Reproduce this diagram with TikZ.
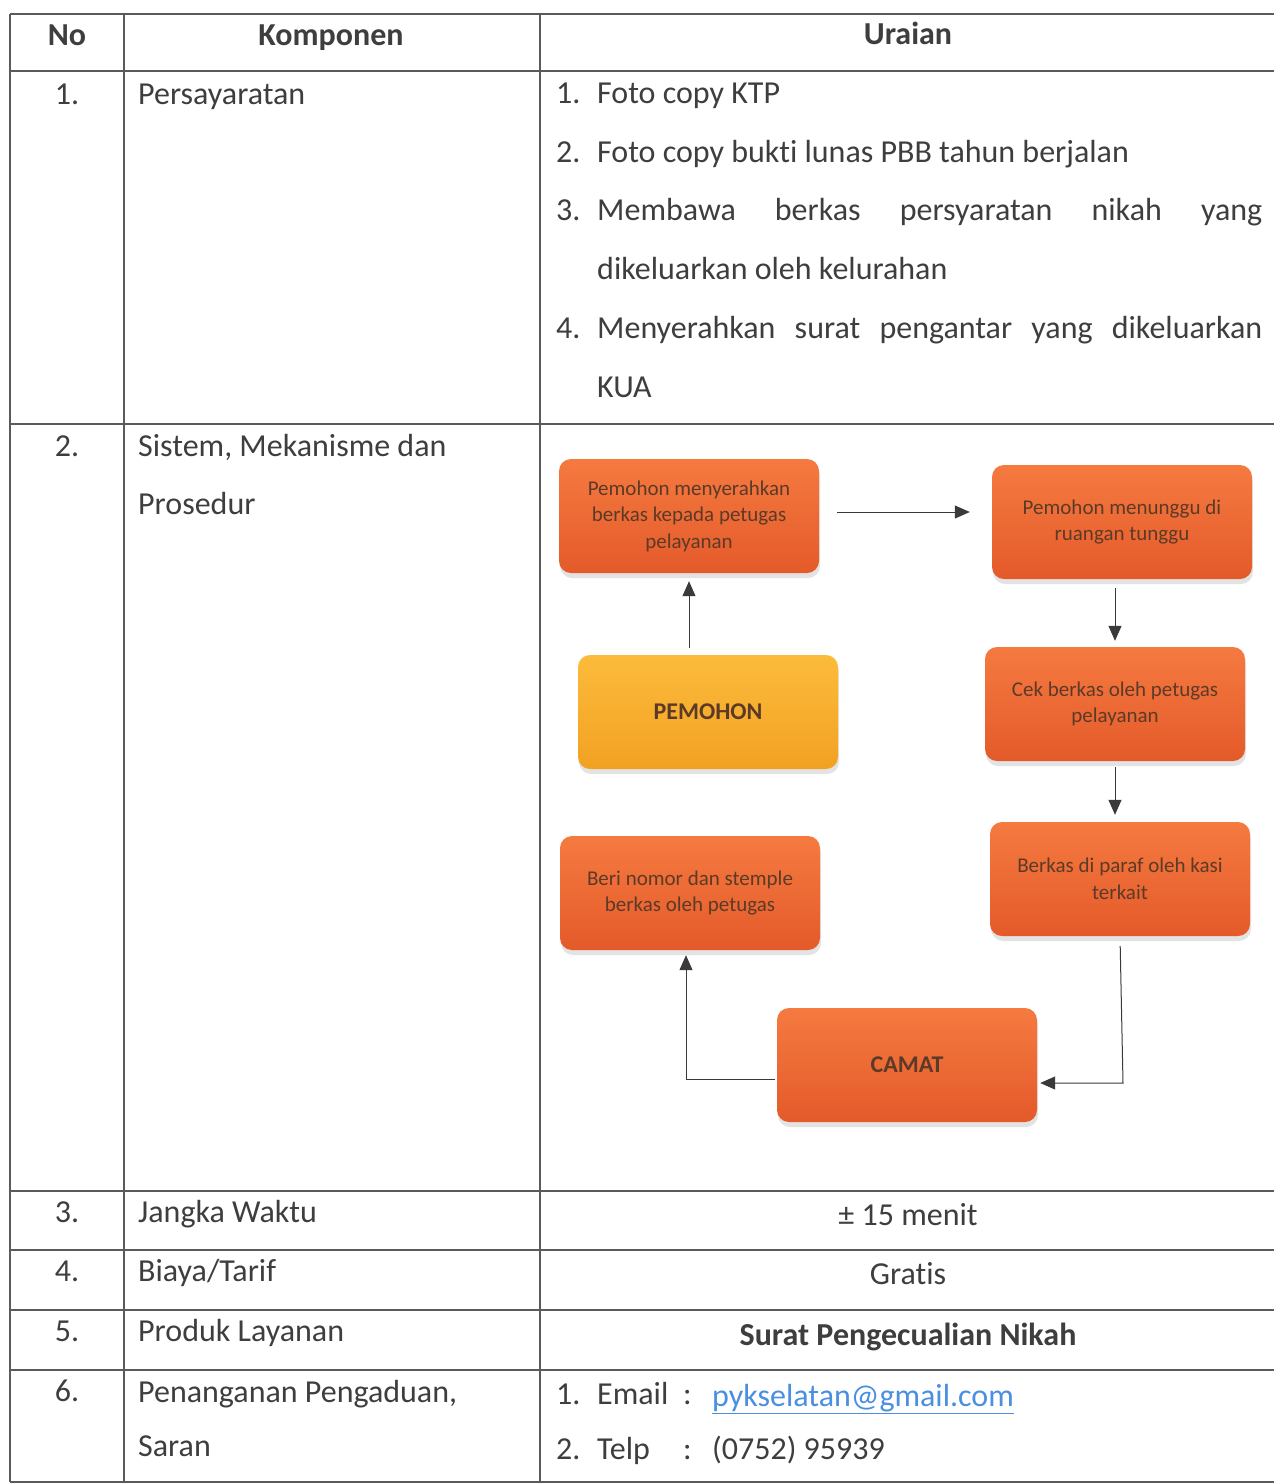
\documentclass[tikz,border=0pt]{standalone}
\usepackage{fontspec}
\setmainfont{Carlito}[Ligatures={NoCommon}]
\usetikzlibrary{arrows.meta,shadows}
\definecolor{ink}{HTML}{3E3E3E}
\definecolor{rule}{HTML}{5A5A5A}
\definecolor{orgA}{HTML}{F57A40}
\definecolor{orgB}{HTML}{E45A2A}
\definecolor{yelA}{HTML}{FCBB3C}
\definecolor{yelB}{HTML}{F2A122}
\definecolor{boxink}{HTML}{5C3A28}
\definecolor{link}{HTML}{4A8FE0}
\definecolor{arrowc}{HTML}{3A3A3A}
\begin{document}
\begin{tikzpicture}[x=1pt,y=-1pt,
  txt/.style={anchor=mid west,inner sep=0pt,text=ink,font=\fontsize{32}{39}\selectfont},
  ctxt/.style={txt,anchor=mid},
  head/.style={ctxt,font=\fontsize{32}{39}\selectfont\bfseries},
  tline/.style={draw=rule,line width=1.3pt},
  flowbox/.style={rounded corners=12pt,minimum width=260pt,minimum height=114pt,
    align=center,inner sep=0pt,text=boxink,
    font=\fontsize{21}{26.5}\selectfont,
    top color=orgA,bottom color=orgB,
    drop shadow={opacity=0.22,shadow xshift=1pt,shadow yshift=-5pt}},
  yelbox/.style={flowbox,top color=yelA,bottom color=yelB},
  bigtxt/.style={font=\fontsize{24}{29}\selectfont\bfseries},
  arr/.style={draw=rule,line width=1pt,-{Triangle[length=15pt,width=13pt]},arrowc}
]
\useasboundingbox (0,0) rectangle (1274,1484);
\fill[white] (0,0) rectangle (1274,1484);
% table rules
\draw[tline] (10,14) -- (1274,14);
\draw[tline] (10,71) -- (1274,71);
\draw[tline] (10,424) -- (1274,424);
\draw[tline] (10,1191) -- (1274,1191);
\draw[tline] (10,1250) -- (1274,1250);
\draw[tline] (10,1310) -- (1274,1310);
\draw[tline] (10,1370) -- (1274,1370);
\draw[tline] (10,1482) -- (1274,1482);
\draw[tline] (10,14) -- (10,1482);
\draw[tline] (124,14) -- (124,1482);
\draw[tline] (540,14) -- (540,1482);
% header
\node[head] (hNo) at (67,43) {No};
\node[head] (hKomp) at (331,43) {Komponen};
\node[head] (hUr) at (908,42) {Uraian};
% row 1
\node[ctxt] (n1) at (67,102) {1.};
\node[txt] (k1) at (138,102) {Persayaratan};
\node[txt] (i1n) at (556,101) {1.};
\node[txt] (i1) at (597,101) {Foto copy KTP};
\node[txt] (i2n) at (556,160) {2.};
\node[txt] (i2) at (597,160) {Foto copy bukti lunas PBB tahun berjalan};
\node[txt] (i3n) at (556,218) {3.};
\node[txt] (i3) at (597,218) {\makebox[665pt][s]{Membawa berkas persyaratan nikah yang}};
\node[txt] (i3b) at (597,277) {dikeluarkan oleh kelurahan};
\node[txt] (i4n) at (556,336) {4.};
\node[txt] (i4) at (597,336) {\makebox[665pt][s]{Menyerahkan surat pengantar yang dikeluarkan}};
\node[txt] (i4b) at (597,395) {KUA};
% row 2
\node[ctxt] (n2) at (67,454) {2.};
\node[txt] (k2) at (138,454) {Sistem, Mekanisme dan};
\node[txt] (k2b) at (138,512) {Prosedur};
% flowchart
\node[flowbox] (b1) at (689,516) {Pemohon menyerahkan\\berkas kepada petugas\\pelayanan};
\node[flowbox] (b2) at (1122,522) {Pemohon menunggu di\\ruangan tunggu};
\node[yelbox,bigtxt] (pem) at (708,712) {PEMOHON};
\node[flowbox] (cek) at (1115,704) {Cek berkas oleh petugas\\pelayanan};
\node[flowbox] (ber) at (1120,879) {Berkas di paraf oleh kasi\\terkait};
\node[flowbox] (beri) at (690,893) {Beri nomor dan stemple\\berkas oleh petugas};
\node[flowbox,bigtxt] (camat) at (907,1065) {CAMAT};
\coordinate (kb) at (1123,1083);
\coordinate (kc) at (686,1079);
\draw[arr,shorten <=18pt,shorten >=22pt] ([yshift=4pt]b1.east) -- ([yshift=10pt]b2.west);
\draw[arr,shorten <=7pt,shorten >=8pt] (b1.south |- pem.north) -- (b1.south);
\draw[arr,shorten <=9pt,shorten >=6pt] (b2.south -| cek.north) -- (cek.north);
\draw[arr,shorten <=6pt,shorten >=7pt] (cek.south) -- (cek.south |- ber.north);
\draw[arr,shorten <=10pt,shorten >=3pt] (ber.south) -- (kb) -- (kb -| camat.east);
\draw[arr,shorten <=2pt,shorten >=5pt] (camat.west |- kc) -- (kc) -- (kc |- beri.south);
% row 3
\node[ctxt] (n3) at (67,1220) {3.};
\node[txt] (k3) at (138,1220) {Jangka Waktu};
\node[ctxt] (u3) at (908,1223) {± 15 menit};
% row 4
\node[ctxt] (n4) at (67,1279) {4.};
\node[txt] (k4) at (138,1279) {Biaya/Tarif};
\node[ctxt] (u4) at (908,1282) {Gratis};
% row 5
\node[ctxt] (n5) at (67,1339) {5.};
\node[txt] (k5) at (138,1339) {Produk Layanan};
\node[ctxt,font=\fontsize{32}{39}\selectfont\bfseries] (u5) at (908,1343) {Surat Pengecualian Nikah};
% row 6
\node[ctxt] (n6) at (67,1399) {6.};
\node[txt] (k6) at (138,1400) {Penanganan Pengaduan,};
\node[txt] (k6b) at (138,1454) {Saran};
\node[txt] (e1n) at (556,1402) {1.};
\node[txt] (e1) at (597,1402) {Email};
\node[txt] (e1c) at (683,1402) {:};
\node[txt,text=link] (e1v) at (712,1404) {\underline{pykselatan@gmail.com}};
\node[txt] (e2n) at (556,1457) {2.};
\node[txt] (e2) at (597,1457) {Telp};
\node[txt] (e2c) at (683,1457) {:};
\node[txt] (e2v) at (712,1457) {(0752) 95939};
\end{tikzpicture}
\end{document}
